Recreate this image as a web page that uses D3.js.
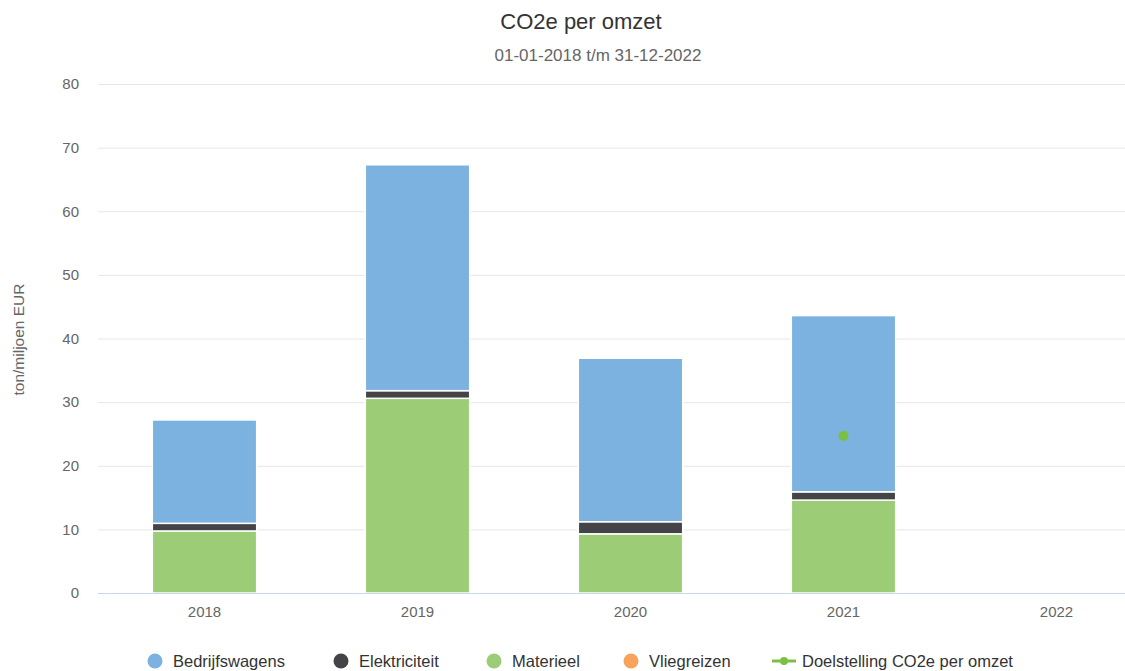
<!DOCTYPE html>
<html>
<head>
<meta charset="utf-8">
<script src="https://cdn.jsdelivr.net/npm/d3@7"></script>
<style>
  body { margin: 0; background: #fff; }
  text { font-family: "Liberation Sans", Arial, sans-serif; }
</style>
</head>
<body>
<div id="chart"></div>
<script>
const years = ["2018", "2019", "2020", "2021", "2022"];
const bedrijfswagens = [16.25, 35.5, 25.7, 27.7, 0];
const elektriciteit = [1.2, 1.2, 1.9, 1.3, 0];
const materieel = [9.75, 30.6, 9.3, 14.6, 0];
const vliegreizen = [0, 0, 0, 0, 0];
const doelstelling = [null, null, null, 24.7, null];
const yTicks = [0, 10, 20, 30, 40, 50, 60, 70, 80];

const width = 1125;
const height = 671;
const margin = { top: 84, right: -38, bottom: 78, left: 98 };

// stacking order bottom -> top
const series = [
  { name: "Materieel", values: materieel, color: "#9ccd76" },
  { name: "Elektriciteit", values: elektriciteit, color: "#434348" },
  { name: "Bedrijfswagens", values: bedrijfswagens, color: "#7cb2e0" },
  { name: "Vliegreizen", values: vliegreizen, color: "#f7a35c" }
];

const rows = years.map((y, i) => {
  const r = { year: y };
  series.forEach((s) => (r[s.name] = s.values[i]));
  return r;
});

const stacked = d3.stack().keys(series.map((s) => s.name))(rows);

const x = d3
  .scaleBand()
  .domain(years)
  .range([margin.left, width - margin.right])
  .paddingInner(0.51)
  .paddingOuter(0.255);

const y = d3
  .scaleLinear()
  .domain([0, 80])
  .range([height - margin.bottom, margin.top]);

const svg = d3.select("#chart").append("svg").attr("width", width).attr("height", height);

// title
svg
  .append("text")
  .attr("x", 581)
  .attr("y", 29)
  .attr("text-anchor", "middle")
  .style("font-size", "22px")
  .attr("fill", "#333")
  .text("CO2e per omzet");

svg
  .append("text")
  .attr("x", 598)
  .attr("y", 61)
  .attr("text-anchor", "middle")
  .style("font-size", "17px")
  .attr("fill", "#666")
  .text("01-01-2018 t/m 31-12-2022");

// gridlines + y labels
const yAxis = (g) =>
  g
    .attr("transform", `translate(${margin.left},0)`)
    .call(d3.axisLeft(y).tickValues(yTicks).tickSize(-(width - margin.left)).tickPadding(19))
    .call((g) => g.select(".domain").remove())
    .call((g) => g.selectAll(".tick line").attr("stroke", "#e6e6e6"))
    .call((g) =>
      g.selectAll(".tick text").attr("fill", "#666").style("font-size", "15px").style("font-family", '"Liberation Sans", Arial, sans-serif')
    );

svg.append("g").call(yAxis);

svg
  .append("text")
  .attr("transform", `translate(24,${(y(0) + y(80)) / 2 + 1}) rotate(-90)`)
  .attr("text-anchor", "middle")
  .style("font-size", "15.5px")
  .attr("fill", "#666")
  .text("ton/miljoen EUR");

// bars
svg
  .append("g")
  .selectAll("g")
  .data(stacked)
  .join("g")
  .attr("fill", (d, i) => series[i].color)
  .selectAll("rect")
  .data((d) => d.filter((p) => p[1] - p[0] > 0))
  .join("rect")
  .attr("x", (d) => x(d.data.year))
  .attr("y", (d) => y(d[1]))
  .attr("width", x.bandwidth())
  .attr("height", (d) => y(d[0]) - y(d[1]))
  .attr("stroke", "#fff")
  .attr("stroke-width", 1.5);

// x axis
const xAxis = (g) =>
  g
    .attr("transform", `translate(0,${y(0)})`)
    .call(d3.axisBottom(x).tickSize(0).tickPadding(13))
    .call((g) => g.select(".domain").attr("stroke", "#ccd6eb").attr("d", `M${margin.left},0.5H${width}`))
    .call((g) =>
      g.selectAll(".tick text").attr("fill", "#666").style("font-size", "15px").style("font-family", '"Liberation Sans", Arial, sans-serif')
    );

svg.append("g").call(xAxis);

// target point
svg
  .append("g")
  .selectAll("circle")
  .data(years.map((yr, i) => ({ year: yr, v: doelstelling[i] })).filter((d) => d.v != null))
  .join("circle")
  .attr("cx", (d) => x(d.year) + x.bandwidth() / 2)
  .attr("cy", (d) => y(d.v))
  .attr("r", 5)
  .attr("fill", "#7cc043");

// legend
const legendItems = [
  { name: "Bedrijfswagens", color: "#7cb2e0", x: 155 },
  { name: "Elektriciteit", color: "#434348", x: 341 },
  { name: "Materieel", color: "#9ccd76", x: 494 },
  { name: "Vliegreizen", color: "#f7a35c", x: 631 }
];
const ly = 661;
const legend = svg.append("g");
legendItems.forEach((d) => {
  legend.append("circle").attr("cx", d.x).attr("cy", ly).attr("r", 7.5).attr("fill", d.color);
  legend
    .append("text")
    .attr("x", d.x + 18)
    .attr("y", ly + 6)
    .style("font-size", "16.5px")
    .attr("fill", "#333")
    .text(d.name);
});
legend.append("line").attr("x1", 772).attr("x2", 796).attr("y1", ly).attr("y2", ly).attr("stroke", "#7cc043").attr("stroke-width", 3);
legend.append("circle").attr("cx", 784).attr("cy", ly).attr("r", 4).attr("fill", "#7cc043");
legend
  .append("text")
  .attr("x", 802)
  .attr("y", ly + 6)
  .style("font-size", "16.5px")
  .attr("fill", "#333")
  .text("Doelstelling CO2e per omzet");
</script>
</body>
</html>
